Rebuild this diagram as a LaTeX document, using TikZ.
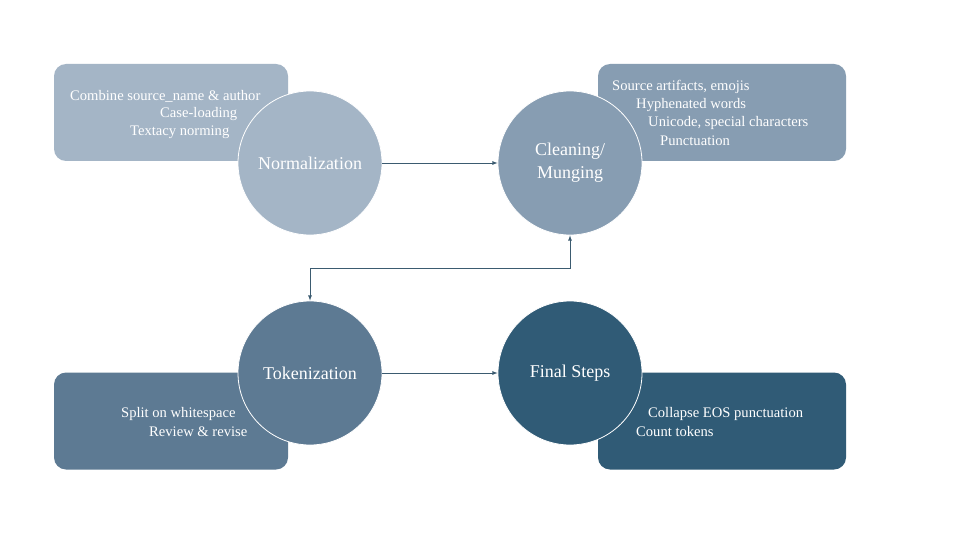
\documentclass[tikz,border=0pt]{standalone}
\usepackage{fontspec}
\setmainfont{Liberation Serif}
\usepackage{tikz}
\usetikzlibrary{arrows,shapes,positioning}
\definecolor{normcol}{RGB}{164,181,198}
\definecolor{cleancol}{RGB}{135,157,178}
\definecolor{tokencol}{RGB}{93,122,147}
\definecolor{finalcol}{RGB}{48,91,118}
\definecolor{flowcol}{RGB}{59,91,112}
\begin{document}
\begin{tikzpicture}[x=1pt,y=-1pt,
	notebox/.style={rounded corners=12pt,inner sep=0pt,minimum height=97pt},
	stage/.style={circle,draw=white,line width=0.8pt,minimum size=144pt,inner sep=0pt,text=white,font=\fontsize{18}{23}\selectfont,align=center},
	itemtext/.style={anchor=west,inner sep=0pt,text=white,font=\fontsize{14.6}{17}\selectfont},
	flow/.style={draw=flowcol,line width=0.8pt,-latex}]
	\useasboundingbox[fill=white] (0,0) rectangle (960,540);
	% boxes
	\node[notebox,fill=normcol,minimum width=234pt] (normbox) at (171,112.5) {};
	\node[notebox,fill=cleancol,minimum width=248pt] (cleanbox) at (722,112.5) {};
	\node[notebox,fill=tokencol,minimum width=234pt] (tokenbox) at (171,421) {};
	\node[notebox,fill=finalcol,minimum width=248pt] (finalbox) at (722,421) {};
	% stages
	\node[stage,fill=normcol] (norm) at (310,163) {Normalization};
	\node[stage,fill=cleancol] (clean) at (570,163) {Cleaning/\\Munging};
	\node[stage,fill=tokencol] (token) at (310,373) {Tokenization};
	\node[stage,fill=finalcol] (final) at (570,373) {Final Steps};
	% box texts
	\node[itemtext] (n1) at (70,96) {Combine source\_name \& author};
	\node[itemtext] (n2) at (160,114) {Case-loading};
	\node[itemtext] (n3) at (130,132) {Textacy norming};
	%
	\node[itemtext] (c1) at (612,87) {Source artifacts, emojis};
	\node[itemtext] (c2) at (636,105) {Hyphenated words};
	\node[itemtext] (c3) at (648,123) {Unicode, special characters};
	\node[itemtext] (c4) at (660,141) {Punctuation};
	%
	\node[itemtext] (t1) at (121,414) {Split on whitespace};
	\node[itemtext] (t2) at (149,432) {Review \& revise};
	%
	\node[itemtext] (f1) at (648,414) {Collapse EOS punctuation};
	\node[itemtext] (f2) at (636,432) {Count tokens};
	% connectors
	\draw[flow] (norm) -- (clean);
	\draw[flow] (token) -- (final);
	\draw[flow,latex-latex] (clean.south) -- ++(0,33) -| (token.north);
\end{tikzpicture}
\end{document}
